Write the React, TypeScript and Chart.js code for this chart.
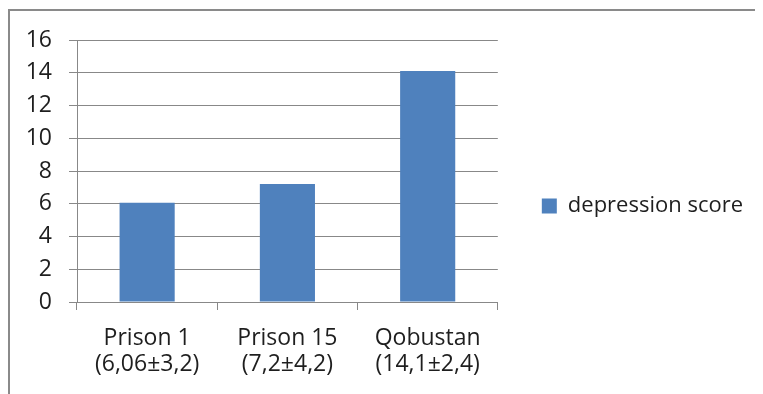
import React, { useEffect, useRef } from "react";
import { Chart, registerables } from "chart.js";

Chart.register(...registerables);

const categories: string[][] = [
  ["Prison 1", "(6,06±3,2)"],
  ["Prison 15", "(7,2±4,2)"],
  ["Qobustan", "(14,1±2,4)"],
];
const depressionScore: number[] = [6.06, 7.2, 14.1];
const seriesName = "depression score";
const yMin = 0;
const yMax = 16;
const yStep = 2;

const FONT = "'Open Sans', sans-serif";
const GRID = "#888888";
const TEXT = "#1e1e1e";
const BAR = "#4f81bd";

export default function App() {
  const canvasRef = useRef<HTMLCanvasElement | null>(null);

  useEffect(() => {
    const canvas = canvasRef.current;
    if (!canvas) return;
    const chart = new Chart(canvas, {
      type: "bar",
      data: {
        labels: categories,
        datasets: [
          {
            label: seriesName,
            data: depressionScore,
            backgroundColor: BAR,
            borderWidth: 0,
            barPercentage: 0.393,
            categoryPercentage: 1,
          },
        ],
      },
      options: {
        responsive: false,
        animation: false,
        devicePixelRatio: 1,
        layout: { padding: { left: 0, top: 10, right: 10, bottom: 0 } },
        plugins: {
          tooltip: { enabled: false },
          // empty title reserves the space above the plot area
          title: {
            display: true,
            text: "",
            font: { family: FONT, size: 10, lineHeight: 1.2 },
            padding: { top: 0, bottom: 10 },
          },
          legend: {
            position: "right",
            maxWidth: 300,
            labels: {
              boxWidth: 15,
              boxHeight: 15,
              padding: 44,
              color: TEXT,
              font: { family: FONT, size: 22 },
            },
          },
        },
        scales: {
          x: {
            offset: true,
            grid: {
              offset: true,
              drawOnChartArea: false,
              drawTicks: true,
              tickLength: 8,
              color: GRID,
              lineWidth: 1,
            },
            border: { display: true, color: GRID, width: 1 },
            ticks: {
              color: TEXT,
              padding: 15,
              maxRotation: 0,
              autoSkip: false,
              font: { family: FONT, size: 23, lineHeight: 1.15 },
            },
            afterFit: (scale: any) => {
              scale.height = 92;
            },
          },
          y: {
            min: yMin,
            max: yMax,
            grid: {
              drawTicks: true,
              tickLength: 8,
              color: GRID,
              lineWidth: 1,
            },
            border: { display: true, color: GRID, width: 1 },
            ticks: {
              stepSize: yStep,
              color: TEXT,
              padding: 17,
              font: { family: FONT, size: 23 },
            },
            afterFit: (scale: any) => {
              scale.width = 69;
            },
          },
        },
      },
    });
    return () => chart.destroy();
  }, []);

  return (
    <div
      style={{
        position: "relative",
        width: 755,
        height: 386,
        overflow: "hidden",
        background: "#ffffff",
      }}
    >
      <div
        style={{
          position: "absolute",
          left: 0,
          top: 1,
          width: 900,
          height: 500,
          border: "2px solid #8a8a8a",
          boxSizing: "border-box",
        }}
      />
      <canvas
        ref={canvasRef}
        width={755}
        height={386}
        style={{ position: "absolute", left: 0, top: 0 }}
      />
    </div>
  );
}
